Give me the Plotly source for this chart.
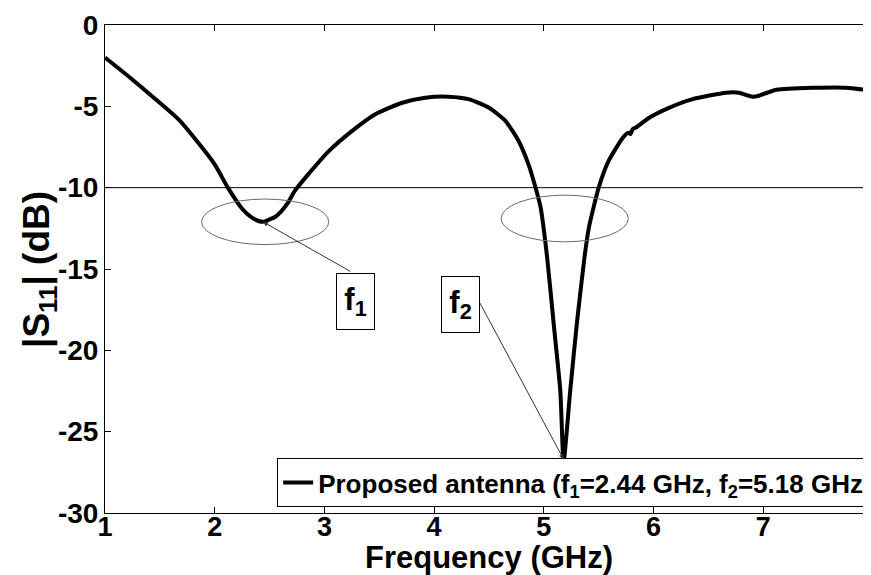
import plotly.graph_objects as go

# Frequency (GHz) and |S11| (dB)
freq = [1.00, 1.24, 1.45, 1.67, 1.85, 2.00, 2.12, 2.25, 2.33, 2.40, 2.44, 2.50, 2.55,
        2.60, 2.67, 2.73, 2.85, 3.04, 3.25, 3.46, 3.71, 3.92, 4.13, 4.32, 4.50, 4.65,
        4.77, 4.86, 4.92, 4.97, 5.03, 5.09, 5.15, 5.18, 5.24, 5.30, 5.37, 5.41, 5.50,
        5.59, 5.72, 5.77, 5.79, 5.81, 5.84, 5.96, 6.14, 6.35, 6.66, 6.78, 6.84,
        6.90, 6.96, 7.04, 7.12, 7.45, 7.75, 8.00]
s11 = [-2.0, -3.3, -4.5, -5.8, -7.24, -8.57, -10.0, -11.3, -11.8, -12.05, -12.1,
       -11.95, -11.8, -11.5, -10.9, -10.2, -9.2, -7.75, -6.52, -5.5, -4.78, -4.47,
       -4.41, -4.57, -5.09, -5.9, -7.13, -8.57, -9.9, -11.2, -14.3, -18.4, -22.5,
       -26.8, -22.5, -18.4, -14.3, -12.47, -10.0, -8.36, -6.93, -6.62, -6.70, -6.40,
       -6.3, -5.7, -5.09, -4.57, -4.16, -4.16, -4.3, -4.41, -4.35, -4.15, -3.98,
       -3.86, -3.85, -4.04]

x_ticks = [1, 2, 3, 4, 5, 6, 7, 8]
x_ticktext = ["1", "2", "3", "4", "5", "6", "7", "8"]
y_ticks = [0, -5, -10, -15, -20, -25, -30]
y_ticktext = ["0", "-5", "-10", "-15", "-20", "-25", "-30"]

x_title = "Frequency (GHz)"
y_title = "|S<sub>11</sub>| (dB)"
series_name = "Proposed antenna (f<sub>1</sub>=2.44 GHz, f<sub>2</sub>=5.18 GHz"

FONT = "Arial, Liberation Sans, sans-serif"

fig = go.Figure()
fig.add_trace(go.Scatter(
    x=freq, y=s11, mode="lines", name=series_name,
    line=dict(color="black", width=4, shape="spline", smoothing=0.6),
))

# -10 dB reference line
fig.add_shape(type="line", xref="x", yref="y", x0=1, x1=8, y0=-10, y1=-10,
              line=dict(color="black", width=1))
# ellipses around the two bands
fig.add_shape(type="circle", xref="x", yref="y", x0=1.88, x1=3.04, y0=-13.5, y1=-10.7,
              line=dict(color="#6a6a6a", width=1))
fig.add_shape(type="circle", xref="x", yref="y", x0=4.61, x1=5.77, y0=-13.33, y1=-10.46,
              line=dict(color="#6a6a6a", width=1))

# arrows
fig.add_annotation(x=2.44, y=-12.1, ax=3.25, ay=-15.2, xref="x", yref="y",
                   axref="x", ayref="y", text="", showarrow=True,
                   arrowhead=2, arrowsize=1, arrowwidth=1, arrowcolor="#333333")
fig.add_annotation(x=5.18, y=-26.7, ax=4.41, ay=-17.0, xref="x", yref="y",
                   axref="x", ayref="y", text="", showarrow=True,
                   arrowhead=2, arrowsize=1, arrowwidth=1, arrowcolor="#333333")
# boxed labels
for txt, xx, yy in [("f<sub>1</sub>", 3.28, -17.0), ("f<sub>2</sub>", 4.24, -17.2)]:
    fig.add_annotation(x=xx, y=yy, xref="x", yref="y", text=txt, showarrow=False,
                       font=dict(family=FONT, size=31, color="black", weight="bold"),
                       bordercolor="black", borderwidth=1, borderpad=1,
                       bgcolor="white", width=35, height=53)

# axis titles as annotations (precise placement)
fig.add_annotation(x=0.5, y=-0.092, xref="paper", yref="paper", text=x_title,
                   showarrow=False, xanchor="center", yanchor="middle",
                   font=dict(family=FONT, size=31, color="black", weight="bold"))
fig.add_annotation(x=-0.086, y=0.5, xref="paper", yref="paper", text=y_title,
                   showarrow=False, xanchor="center", yanchor="middle", textangle=-90,
                   font=dict(family=FONT, size=37, color="black", weight="bold"))

fig.update_layout(
    width=871, height=575,
    margin=dict(l=97, r=6, t=17, b=70),
    paper_bgcolor="white", plot_bgcolor="white",
    font=dict(family=FONT, color="black", weight="bold"),
    showlegend=True,
    legend=dict(x=0.995, y=0.012, xanchor="right", yanchor="bottom",
                bordercolor="black", borderwidth=1, bgcolor="white",
                font=dict(family=FONT, size=26, color="black", weight="bold"),
                itemwidth=30, tracegroupgap=0),
)
fig.update_xaxes(
    range=[1, 8], tickvals=x_ticks, ticktext=x_ticktext,
    ticks="inside", ticklen=6, tickcolor="black", automargin=False,
    ticklabelstandoff=-10, ticklabeloverflow="allow",
    showline=True, linecolor="black", linewidth=1, mirror="ticks",
    showgrid=False, zeroline=False,
    tickfont=dict(family=FONT, size=27, color="black", weight="bold"),
)
fig.update_yaxes(
    range=[-30, 0], tickvals=y_ticks, ticktext=y_ticktext,
    ticks="inside", ticklen=6, tickcolor="black", automargin=False,
    showline=True, linecolor="black", linewidth=1, mirror="ticks",
    showgrid=False, zeroline=False,
    tickfont=dict(family=FONT, size=28, color="black", weight="bold"),
)

fig.write_html("out.html")
